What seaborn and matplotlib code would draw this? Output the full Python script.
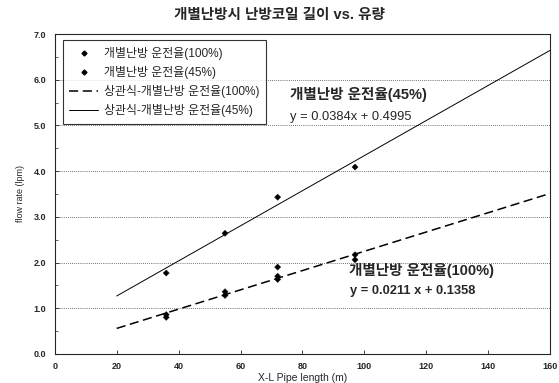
import numpy as np
import pandas as pd
import matplotlib.pyplot as plt
import seaborn as sns
from matplotlib.lines import Line2D

# measured points
x_100 = [36, 36, 55, 55, 72, 72, 72, 97, 97]
y_100 = [0.86, 0.80, 1.36, 1.28, 1.90, 1.70, 1.63, 2.17, 2.06]
x_45 = [36, 55, 72, 97]
y_45 = [1.77, 2.64, 3.43, 4.09]

# trend lines (coefficients as printed on chart)
fit_x = [20, 160]
fit_100 = (0.0211, 0.1358)
fit_45 = (0.0384, 0.4995)

title = '개별난방시 난방코일 길이 vs. 유량'
labels = ['개별난방 운전율(100%)', '개별난방 운전율(45%)',
          '상관식-개별난방 운전율(100%)', '상관식-개별난방 운전율(45%)']

sns.set_style('ticks')
plt.rcParams['font.family'] = ['Liberation Sans', 'Noto Sans CJK KR']

pts = pd.concat([
    pd.DataFrame({'x': x_100, 'y': y_100, 's': labels[0]}),
    pd.DataFrame({'x': x_45, 'y': y_45, 's': labels[1]}),
])
fx = np.array(fit_x, dtype=float)
lines = pd.concat([
    pd.DataFrame({'x': fx, 'y': fit_100[0] * fx + fit_100[1], 's': labels[2]}),
    pd.DataFrame({'x': fx, 'y': fit_45[0] * fx + fit_45[1], 's': labels[3]}),
])

fig = plt.figure(figsize=(5.59, 3.83), dpi=100)
ax = fig.add_axes([0.098, 0.076, 0.886, 0.835])

sns.lineplot(data=lines, x='x', y='y', hue='s', style='s',
             palette=['black', 'black'], dashes=[(6, 3), ''],
             ax=ax, legend=False)
ax.lines[0].set_linewidth(1.1)
ax.lines[1].set_linewidth(0.7)
sns.scatterplot(data=pts, x='x', y='y', hue='s', palette=['black', 'black'],
                marker='D', s=10, edgecolor='black', ax=ax, legend=False)

ax.set_xlim(0, 160)
ax.set_ylim(0, 7)
ax.set_xticks(range(0, 161, 20))
ax.set_yticks(np.arange(0, 7.1, 1.0))
ax.set_yticks(np.arange(0.5, 7, 1.0), minor=True)
ax.set_yticklabels([f'{v:.1f}' for v in np.arange(0, 7.1, 1.0)])
ax.tick_params(labelsize=6.5, width=0.6, length=3, direction='in', pad=6)
ax.tick_params(which='minor', length=2, width=0.5, direction='in')
for lab in ax.get_xticklabels() + ax.get_yticklabels():
    lab.set_fontweight('bold')
ax.grid(axis='y', linestyle=(0, (1, 1.5)), color='#444444', linewidth=0.6)
for sp in ax.spines.values():
    sp.set_linewidth(0.8)

ax.set_xlabel('X-L Pipe length (m)', fontsize=7.5, labelpad=1)
ax.set_ylabel('flow rate (lpm)', fontsize=6.5, labelpad=6)
fig.suptitle(title, fontsize=10.5, fontweight='bold', y=0.98)

ax.text(76, 5.58, '개별난방 운전율(45%)', fontsize=10.5, fontweight='bold')
ax.text(76, 5.13, 'y = 0.0384x + 0.4995', fontsize=9.3)
ax.text(95, 1.72, '개별난방 운전율(100%)', fontsize=10.5, fontweight='bold')
ax.text(95.5, 1.30, 'y = 0.0211 x + 0.1358', fontsize=9.3, fontweight='bold')

handles = [
    Line2D([], [], marker='D', color='black', linestyle='none', markersize=2.5),
    Line2D([], [], marker='D', color='black', linestyle='none', markersize=2.5),
    Line2D([], [], color='black', linestyle=(0, (6, 3)), linewidth=1.1),
    Line2D([], [], color='black', linewidth=0.7),
]
leg = ax.legend(handles, labels, loc='upper left', fontsize=8.6,
                frameon=True, fancybox=False, edgecolor='black',
                borderpad=0.55, labelspacing=0.5, handlelength=2.4,
                handletextpad=0.5, borderaxespad=0,
                bbox_to_anchor=(0.016, 0.98))
leg.get_frame().set_linewidth(0.8)

fig.savefig('out.png', dpi=100)
